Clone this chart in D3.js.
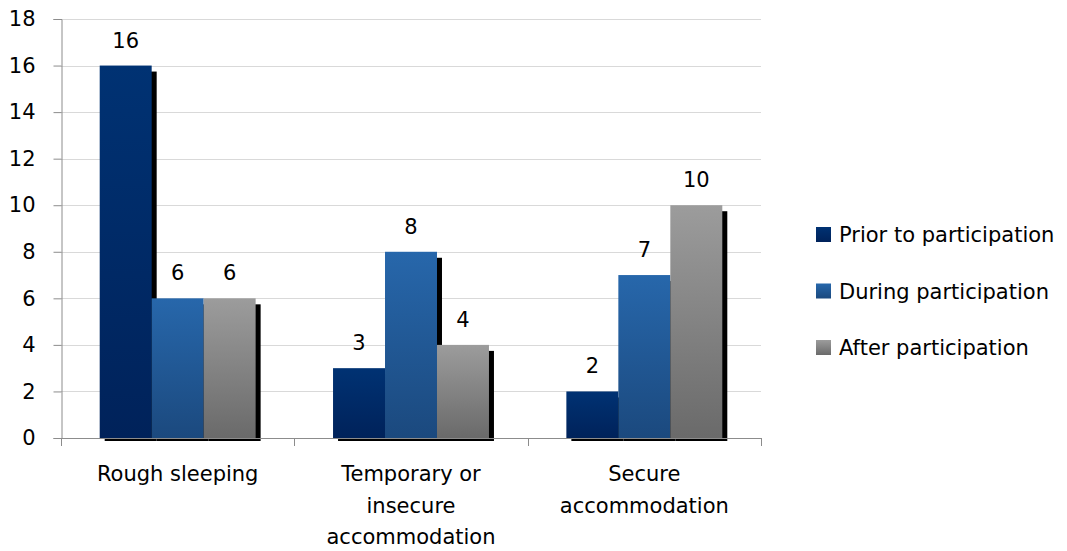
<!DOCTYPE html>
<html>
<head>
<meta charset="utf-8">
<script src="https://cdn.jsdelivr.net/npm/d3@7"></script>
<style>
  html, body { margin: 0; padding: 0; background: #fff; }
  svg { display: block; font-family: "DejaVu Sans", "Open Sans", sans-serif; }
</style>
</head>
<body>
<svg id="chart" width="1067" height="551"></svg>
<script>
// Housing situation counts by stage of participation
const categories = [["Rough sleeping"], ["Temporary or", "insecure", "accommodation"], ["Secure", "accommodation"]];
const seriesNames = ["Prior to participation", "During participation", "After participation"];
const prior = [16, 3, 2];
const during = [6, 8, 7];
const after = [6, 4, 10];
const yTicks = [0, 2, 4, 6, 8, 10, 12, 14, 16, 18];

const seriesValues = [prior, during, after];
const gradStops = [
  ["#003273", "#00225a"],
  ["#2767ab", "#1b497e"],
  ["#9c9c9c", "#6a6a6a"]
];
const fontSize = 21;

const svg = d3.select("#chart");
const plotLeft = 61, plotRight = 761, plotTop = 19, plotBottom = 438;

const x0 = d3.scaleBand().domain(d3.range(categories.length)).range([plotLeft, plotRight]).paddingInner(0).paddingOuter(0);
const innerPad = 38.7;
const x1 = d3.scaleBand().domain(d3.range(seriesNames.length))
  .range([innerPad, x0.bandwidth() - innerPad]);
const y = d3.scaleLinear().domain([0, 18]).range([plotBottom, plotTop]);

// gradients
const defs = svg.append("defs");
gradStops.forEach((s, i) => {
  const g = defs.append("linearGradient").attr("id", "grad" + i)
    .attr("x1", 0).attr("y1", 0).attr("x2", 0).attr("y2", 1);
  g.append("stop").attr("offset", "0%").attr("stop-color", s[0]);
  g.append("stop").attr("offset", "100%").attr("stop-color", s[1]);
});

// gridlines
svg.append("g").selectAll("line").data(yTicks.filter(d => d > 0)).join("line")
  .attr("x1", plotLeft).attr("x2", plotRight)
  .attr("y1", d => Math.round(y(d)) + 0.5).attr("y2", d => Math.round(y(d)) + 0.5)
  .attr("stroke", "#d9d9d9").attr("stroke-width", 1);

// y axis
const yAxis = d3.axisLeft(y).tickValues(yTicks).tickSize(8).tickPadding(18);
const gy = svg.append("g").attr("transform", `translate(${plotLeft + 0.5},0)`).call(yAxis);
gy.select(".domain").attr("stroke", "#8c8c8c");
gy.selectAll(".tick line").attr("stroke", "#8c8c8c");
gy.selectAll(".tick text").attr("font-size", fontSize).attr("fill", "#000")
  .attr("font-family", "DejaVu Sans");

// bars with drop shadows
const groups = svg.append("g").selectAll("g").data(categories.map((c, i) => i)).join("g")
  .attr("transform", i => `translate(${x0(i)},0)`);

const bw = x1.bandwidth();
// shadows first
groups.each(function(ci) {
  const g = d3.select(this);
  seriesValues.forEach((vals, si) => {
    g.append("rect")
      .attr("x", x1(si) + 5).attr("y", y(vals[ci]) + 6)
      .attr("width", bw).attr("height", plotBottom + 3 - (y(vals[ci]) + 6))
      .attr("fill", "#000");
  });
});
groups.each(function(ci) {
  const g = d3.select(this);
  seriesValues.forEach((vals, si) => {
    g.append("rect")
      .attr("x", x1(si)).attr("y", y(vals[ci]))
      .attr("width", bw).attr("height", plotBottom - y(vals[ci]))
      .attr("fill", `url(#grad${si})`);
    g.append("text")
      .attr("x", x1(si) + bw / 2).attr("y", y(vals[ci]) - 18)
      .attr("text-anchor", "middle").attr("font-size", fontSize)
      .text(vals[ci]);
  });
});

// x axis baseline and category dividers
svg.append("line").attr("x1", plotLeft).attr("x2", plotRight)
  .attr("y1", plotBottom + 0.5).attr("y2", plotBottom + 0.5).attr("stroke", "#8c8c8c");
svg.append("g").selectAll("line").data(d3.range(categories.length + 1)).join("line")
  .attr("x1", i => Math.round(plotLeft + i * x0.bandwidth()) + 0.5)
  .attr("x2", i => Math.round(plotLeft + i * x0.bandwidth()) + 0.5)
  .attr("y1", plotBottom).attr("y2", plotBottom + 8)
  .attr("stroke", "#8c8c8c");

// category labels
svg.append("g").selectAll("text").data(categories).join("text")
  .attr("x", (d, i) => x0(i) + x0.bandwidth() / 2)
  .attr("y", 481)
  .attr("text-anchor", "middle").attr("font-size", fontSize)
  .each(function(lines) {
    d3.select(this).selectAll("tspan").data(lines).join("tspan")
      .attr("x", d3.select(this).attr("x"))
      .attr("dy", (d, k) => k === 0 ? 0 : 31.5)
      .text(d => d);
  });

// legend
const legend = svg.append("g").selectAll("g").data(seriesNames).join("g")
  .attr("transform", (d, i) => `translate(816,${227 + i * 56.5})`);
legend.append("rect").attr("width", 15).attr("height", 15)
  .attr("fill", (d, i) => `url(#grad${i})`);
legend.append("text").attr("x", 23).attr("y", 15)
  .attr("font-size", fontSize).text(d => d);
</script>
</body>
</html>
